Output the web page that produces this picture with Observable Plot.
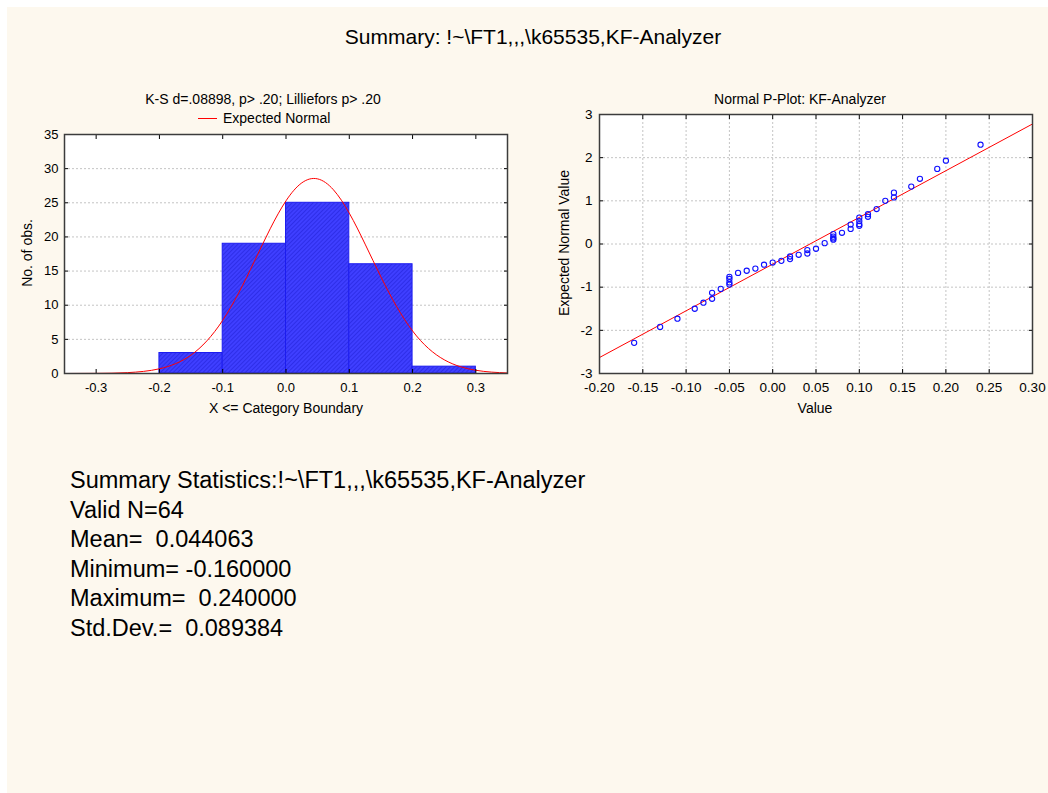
<!DOCTYPE html>
<html><head><meta charset="utf-8">
<script src="https://cdn.jsdelivr.net/npm/d3@7"></script>
<script src="https://cdn.jsdelivr.net/npm/@observablehq/plot@0.6"></script>
<style>
html,body{margin:0;padding:0;background:#fff;}
#bg{position:absolute;left:7px;top:7px;width:1041px;height:786px;background:#fdf8ee;}
#root{position:absolute;left:0;top:0;width:1048px;height:793px;overflow:hidden;font-family:"Liberation Sans",Arial,sans-serif;color:#000;}
.c{position:absolute;white-space:nowrap;line-height:1;transform:translate(-50%,-50%);}
.l{position:absolute;white-space:nowrap;line-height:1;transform:translate(0,-50%);}
.rot{position:absolute;white-space:nowrap;line-height:1;transform:translate(-50%,-50%) rotate(-90deg);}
.svgwrap{position:absolute;}
</style>
</head><body>
<div id="bg"></div>
<div id="root"></div>
<script>
// ---- data ----
const mainTitle = "Summary: !~\\FT1,,,\\k65535,KF-Analyzer";
const histTitle = "K-S d=.08898, p> .20; Lilliefors p> .20";
const legendLabel = "Expected Normal";
const ppTitle = "Normal P-Plot: KF-Analyzer";
const histXLabel = "X <= Category Boundary";
const histYLabel = "No. of obs.";
const ppXLabel = "Value";
const ppYLabel = "Expected Normal Value";

const binLo = [-0.3, -0.2, -0.1, 0.0, 0.1, 0.2];
const binHi = [-0.2, -0.1, 0.0, 0.1, 0.2, 0.3];
const binCounts = [0, 3, 19, 25, 16, 1];

const curveX = [-0.35,-0.325,-0.3,-0.275,-0.25,-0.225,-0.2,-0.175,-0.15,-0.125,-0.1,-0.075,-0.05,-0.025,0,0.025,0.05,0.075,0.1,0.125,0.15,0.175,0.2,0.225,0.25,0.275,0.3,0.325,0.35];
const curveY = [0.00,0.01,0.02,0.05,0.13,0.31,0.69,1.42,2.70,4.78,7.79,11.76,16.42,21.19,25.29,27.92,28.50,26.90,23.48,18.95,14.15,9.77,6.23,3.68,2.01,1.01,0.47,0.20,0.08];

const histXTicks = [-0.3,-0.2,-0.1,0.0,0.1,0.2,0.3];
const histYTicks = [0,5,10,15,20,25,30,35];

const ppX = [-0.16,-0.13,-0.11,-0.09,-0.08,-0.07,-0.07,-0.06,-0.05,-0.05,-0.05,-0.05,-0.04,-0.03,-0.02,-0.01,0.00,0.01,0.02,0.02,0.03,0.04,0.04,0.05,0.06,0.07,0.07,0.07,0.07,0.08,0.09,0.09,0.10,0.10,0.10,0.10,0.11,0.11,0.12,0.13,0.14,0.14,0.16,0.17,0.19,0.20,0.24];
const ppY = [-2.29,-1.92,-1.73,-1.50,-1.36,-1.27,-1.13,-1.04,-0.94,-0.89,-0.81,-0.76,-0.67,-0.62,-0.57,-0.48,-0.43,-0.39,-0.35,-0.29,-0.25,-0.22,-0.14,-0.11,0.02,0.10,0.13,0.17,0.23,0.26,0.35,0.45,0.42,0.46,0.53,0.61,0.63,0.69,0.81,1.00,1.08,1.19,1.33,1.51,1.74,1.93,2.30];
const fitX = [-0.2, 0.3];
const fitY = [-2.63, 2.78];
const ppXTicks = [-0.2,-0.15,-0.1,-0.05,0.0,0.05,0.1,0.15,0.2,0.25,0.3];
const ppYTicks = [-3,-2,-1,0,1,2,3];

const summaryLines = [
  "Summary Statistics:!~\\FT1,,,\\k65535,KF-Analyzer",
  "Valid N=64",
  "Mean=  0.044063",
  "Minimum= -0.160000",
  "Maximum=  0.240000",
  "Std.Dev.=  0.089384"
];

// ---- helpers ----
const root = document.getElementById("root");
function txt(cls, s, x, y, size, extra) {
  const d = document.createElement("div");
  d.className = cls; d.textContent = s;
  d.style.left = x + "px"; d.style.top = y + "px"; d.style.fontSize = size + "px";
  if (extra) Object.assign(d.style, extra);
  root.appendChild(d);
  return d;
}
const FONT = "Liberation Sans, Arial, sans-serif";
const gridStyle = {stroke: "#c4c4c4", strokeWidth: 1, strokeDasharray: "2,2"};

// ---- histogram ----
const histRows = binLo.map((lo, i) => ({lo, hi: binHi[i], n: binCounts[i]}));
const curveRows = curveX.map((x, i) => ({x, y: curveY[i]}));

const hist = Plot.plot({
  width: 520, height: 300,
  marginLeft: 64, marginRight: 13, marginTop: 9, marginBottom: 52,
  style: {background: "transparent", fontFamily: FONT, fontSize: "13px", color: "#000"},
  x: {domain: [-0.35, 0.35]},
  y: {domain: [0, 35]},
  marks: [
    Plot.frame({fill: "#fff", stroke: "none"}),
    Plot.ruleY(histYTicks.slice(1, -1), gridStyle),
    Plot.rect(histRows, {x1: "lo", x2: "hi", y1: 0, y2: "n", fill: "url(#hatch)", stroke: "#1c1cf0", strokeWidth: 1}),
    Plot.line(curveRows, {x: "x", y: "y", stroke: "#ff0000", strokeWidth: 1, curve: "natural"}),
    Plot.axisX({ticks: histXTicks, tickFormat: d => d.toFixed(1), tickSize: -4, tickPadding: 13, label: null}),
    Plot.axisX({anchor: "top", ticks: histXTicks, tickFormat: () => "", tickSize: -4, label: null}),
    Plot.axisY({ticks: histYTicks, tickFormat: d => String(d), tickSize: -4, tickPadding: 10, label: null}),
    Plot.axisY({anchor: "right", ticks: histYTicks, tickFormat: () => "", tickSize: -4, label: null}),
    Plot.frame({stroke: "#3c3c3c", strokeWidth: 1.5})
  ]
});
const ns = "http://www.w3.org/2000/svg";
const defs = document.createElementNS(ns, "defs");
defs.innerHTML = '<pattern id="hatch" width="3" height="3" patternUnits="userSpaceOnUse" patternTransform="rotate(45)"><rect width="3" height="3" fill="#3f3fff"/><line x1="0.5" y1="0" x2="0.5" y2="3" stroke="#2e2ee8" stroke-width="1"/></pattern>';
hist.insertBefore(defs, hist.firstChild);
const hw = document.createElement("div"); hw.className = "svgwrap";
hw.style.left = "0px"; hw.style.top = "125px"; hw.appendChild(hist); root.appendChild(hw);

// ---- normal probability plot ----
const ppRows = ppX.map((x, i) => ({x, y: ppY[i]}));
const fitRows = fitX.map((x, i) => ({x, y: fitY[i]}));
const pp = Plot.plot({
  width: 528, height: 320,
  marginLeft: 79, marginRight: 16, marginTop: 9, marginBottom: 52,
  style: {background: "transparent", fontFamily: FONT, fontSize: "13.5px", color: "#000", overflow: "visible"},
  x: {domain: [-0.2, 0.3]},
  y: {domain: [-3, 3]},
  marks: [
    Plot.frame({fill: "#fff", stroke: "none"}),
    Plot.ruleX(ppXTicks.slice(1, -1), gridStyle),
    Plot.ruleY(ppYTicks.slice(1, -1), gridStyle),
    Plot.line(fitRows, {x: "x", y: "y", stroke: "#ff0000", strokeWidth: 1}),
    Plot.dot(ppRows, {x: "x", y: "y", r: 2.6, stroke: "#1010ff", fill: "none", strokeWidth: 1.1}),
    Plot.axisX({ticks: ppXTicks, tickFormat: d => d.toFixed(2), tickSize: -4, tickPadding: 13, label: null}),
    Plot.axisX({anchor: "top", ticks: ppXTicks, tickFormat: () => "", tickSize: -4, label: null}),
    Plot.axisY({ticks: ppYTicks, tickFormat: d => String(d), tickSize: -4, tickPadding: 11, label: null}),
    Plot.axisY({anchor: "right", ticks: ppYTicks, tickFormat: () => "", tickSize: -4, label: null}),
    Plot.frame({stroke: "#3c3c3c", strokeWidth: 1.5})
  ]
});
const pw = document.createElement("div"); pw.className = "svgwrap";
pw.style.left = "520px"; pw.style.top = "105px"; pw.appendChild(pp); root.appendChild(pw);

// ---- texts ----
txt("c", mainTitle, 533, 36, 21);
txt("c", histTitle, 263, 99, 14);
const leg = document.createElement("div");
leg.style.cssText = "position:absolute;left:198px;top:118px;width:19px;height:0;border-top:1px solid #ff0000;";
root.appendChild(leg);
txt("l", legendLabel, 223, 118, 14);
txt("c", histXLabel, 286, 408, 14);
txt("rot", histYLabel, 27, 253, 14);
txt("c", ppTitle, 800, 99, 14);
txt("c", ppXLabel, 815, 408, 14);
txt("rot", ppYLabel, 564, 243, 14);
summaryLines.forEach((s, i) => txt("l", s, 70, 481 + i * 29.5, 23.5, {whiteSpace: "pre"}));
</script>
</body></html>
